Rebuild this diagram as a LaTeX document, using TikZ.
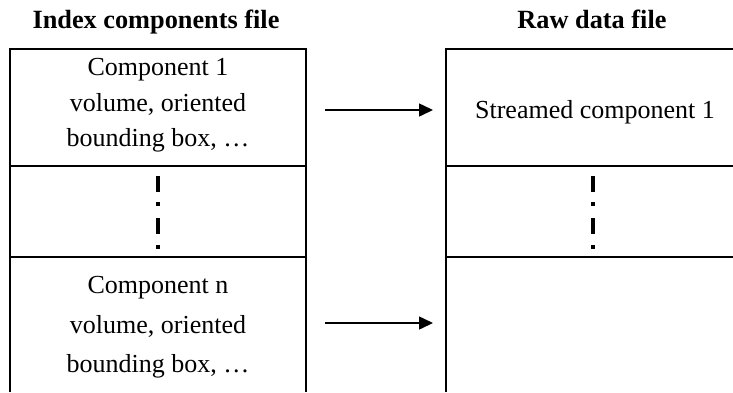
\documentclass[tikz,border=0pt]{standalone}
\usepackage{fontspec}
\setmainfont{Liberation Serif}
\usetikzlibrary{arrows.meta}
\begin{document}
\begin{tikzpicture}[x=1pt,y=-1pt,
  frame/.style={line width=1.4pt},
  edgetick/.style={line width=2.6pt},
  body/.style={font=\fontsize{26}{30}\selectfont, anchor=base, inner sep=0pt},
  head/.style={font=\fontsize{26.3}{30}\selectfont\bfseries, anchor=base, inner sep=0pt},
  link/.style={line width=1.5pt, -{Triangle[length=14pt,width=13pt]}},
  ellmark/.style={fill=black}]
\useasboundingbox (0,0) rectangle (733,392);
\fill[white] (0,0) rectangle (733,392);

% index components file: stacked cells
\draw[frame] (10,392) -- (10,49) -- (306,49) -- (306,392);
\draw[frame] (10,166) -- (306,166);
\draw[frame] (10,257) -- (306,257);
\draw[edgetick] (10,49) -- (10,73);
\draw[edgetick] (306,49) -- (306,73);

% raw data file: stacked cells
\draw[frame] (446,392) -- (446,49) -- (734,49);
\draw[frame] (446,166) -- (734,166);
\draw[frame] (446,257) -- (734,257);
\draw[edgetick] (446,49) -- (446,73);

% column titles
\node[head] (hidx) at (156,28) {Index components file};
\node[head] (hraw) at (592,28) {Raw data file};

% cell texts
\node[body] (c1a) at (158,75) {Component 1};
\node[body] (c1b) at (158,111) {volume, oriented};
\node[body] (c1c) at (158,146) {bounding box, …};
\node[body] (cna) at (158,293) {Component n};
\node[body] (cnb) at (158,333) {volume, oriented};
\node[body] (cnc) at (158,372) {bounding box, …};
\node[body] (s1) at (595,118) {Streamed component 1};

% arrows from index entries to streamed data
\coordinate (a1s) at (325,110);
\coordinate (a1e) at (433,110);
\coordinate (ans) at (325,323);
\coordinate (ane) at (433,323);
\draw[link] (a1s) -- (a1e);
\draw[link] (ans) -- (ane);

% vertical ellipsis marks in the middle cells
\foreach \cx in {158,593} {
  \fill[ellmark] (\cx-2.2,176) rectangle (\cx+2.2,192);
  \fill[ellmark] (\cx-2.2,202) rectangle (\cx+2.2,206);
  \fill[ellmark] (\cx-2.2,218) rectangle (\cx+2.2,234);
  \fill[ellmark] (\cx-2.2,245) rectangle (\cx+2.2,249);
}
\end{tikzpicture}
\end{document}
